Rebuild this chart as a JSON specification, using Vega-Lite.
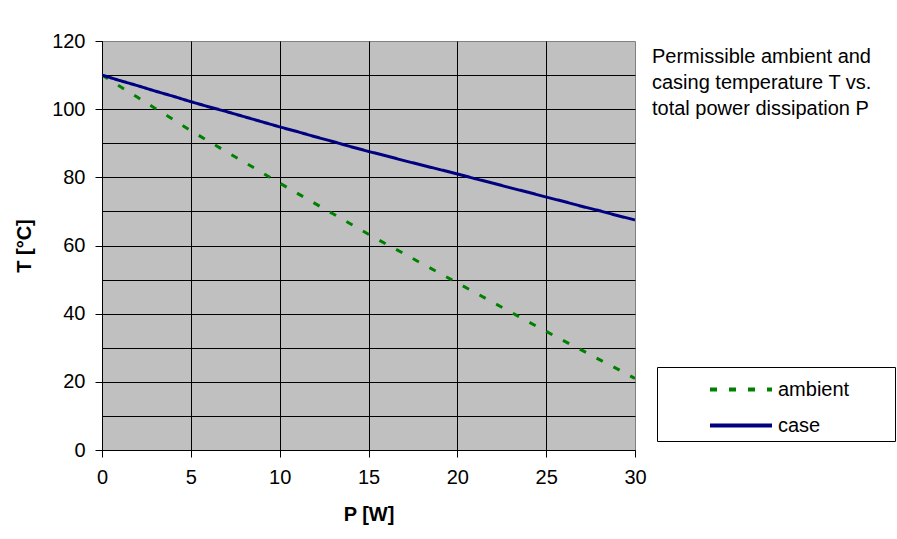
{
  "$schema": "https://vega.github.io/schema/vega-lite/v6.json",
  "autosize": "none",
  "width": 533,
  "height": 409,
  "padding": {"left": 102, "top": 41, "right": 262, "bottom": 89},
  "background": "white",
  "title": {
    "text": ["Permissible ambient and", "casing temperature T vs.", "total power dissipation P"],
    "orient": "top",
    "anchor": "start",
    "frame": "group",
    "baseline": "top",
    "dx": 550,
    "dy": 88,
    "offset": 0,
    "font": "Liberation Sans",
    "fontSize": 20,
    "fontWeight": "normal",
    "lineHeight": 26,
    "color": "black"
  },
  "data": {
    "values": [
      {"P": 0, "T": 110, "series": "ambient"},
      {"P": 1, "T": 106.7, "series": "ambient"},
      {"P": 2, "T": 103.5, "series": "ambient"},
      {"P": 3, "T": 100.2, "series": "ambient"},
      {"P": 4, "T": 97.0, "series": "ambient"},
      {"P": 5, "T": 93.7, "series": "ambient"},
      {"P": 6, "T": 90.6, "series": "ambient"},
      {"P": 7, "T": 87.5, "series": "ambient"},
      {"P": 8, "T": 84.5, "series": "ambient"},
      {"P": 9, "T": 81.4, "series": "ambient"},
      {"P": 10, "T": 78.3, "series": "ambient"},
      {"P": 11, "T": 75.3, "series": "ambient"},
      {"P": 12, "T": 72.3, "series": "ambient"},
      {"P": 13, "T": 69.3, "series": "ambient"},
      {"P": 14, "T": 66.3, "series": "ambient"},
      {"P": 15, "T": 63.3, "series": "ambient"},
      {"P": 16, "T": 60.4, "series": "ambient"},
      {"P": 17, "T": 57.6, "series": "ambient"},
      {"P": 18, "T": 54.7, "series": "ambient"},
      {"P": 19, "T": 51.9, "series": "ambient"},
      {"P": 20, "T": 49.0, "series": "ambient"},
      {"P": 21, "T": 46.2, "series": "ambient"},
      {"P": 22, "T": 43.3, "series": "ambient"},
      {"P": 23, "T": 40.5, "series": "ambient"},
      {"P": 24, "T": 37.6, "series": "ambient"},
      {"P": 25, "T": 34.8, "series": "ambient"},
      {"P": 26, "T": 32.0, "series": "ambient"},
      {"P": 27, "T": 29.3, "series": "ambient"},
      {"P": 28, "T": 26.5, "series": "ambient"},
      {"P": 29, "T": 23.8, "series": "ambient"},
      {"P": 30, "T": 21.0, "series": "ambient"},
      {"P": 0, "T": 110, "series": "case"},
      {"P": 1, "T": 108.4, "series": "case"},
      {"P": 2, "T": 106.9, "series": "case"},
      {"P": 3, "T": 105.3, "series": "case"},
      {"P": 4, "T": 103.8, "series": "case"},
      {"P": 5, "T": 102.2, "series": "case"},
      {"P": 6, "T": 100.7, "series": "case"},
      {"P": 7, "T": 99.3, "series": "case"},
      {"P": 8, "T": 97.8, "series": "case"},
      {"P": 9, "T": 96.3, "series": "case"},
      {"P": 10, "T": 94.8, "series": "case"},
      {"P": 11, "T": 93.4, "series": "case"},
      {"P": 12, "T": 91.9, "series": "case"},
      {"P": 13, "T": 90.5, "series": "case"},
      {"P": 14, "T": 89.0, "series": "case"},
      {"P": 15, "T": 87.6, "series": "case"},
      {"P": 16, "T": 86.3, "series": "case"},
      {"P": 17, "T": 84.9, "series": "case"},
      {"P": 18, "T": 83.6, "series": "case"},
      {"P": 19, "T": 82.3, "series": "case"},
      {"P": 20, "T": 81.0, "series": "case"},
      {"P": 21, "T": 79.6, "series": "case"},
      {"P": 22, "T": 78.3, "series": "case"},
      {"P": 23, "T": 76.9, "series": "case"},
      {"P": 24, "T": 75.6, "series": "case"},
      {"P": 25, "T": 74.2, "series": "case"},
      {"P": 26, "T": 72.9, "series": "case"},
      {"P": 27, "T": 71.5, "series": "case"},
      {"P": 28, "T": 70.2, "series": "case"},
      {"P": 29, "T": 68.8, "series": "case"},
      {"P": 30, "T": 67.5, "series": "case"}
    ]
  },
  "mark": {"type": "line", "strokeWidth": 3, "clip": true},
  "encoding": {
    "x": {
      "field": "P",
      "type": "quantitative",
      "title": "P [W]",
      "scale": {"domain": [0, 30], "nice": false, "zero": true},
      "axis": {
        "values": [0, 5, 10, 15, 20, 25, 30],
        "gridColor": {"condition": {"test": "datum.value == 30", "value": "transparent"}, "value": "black"},
        "labelPadding": 10,
        "titlePadding": 17
      }
    },
    "y": {
      "field": "T",
      "type": "quantitative",
      "title": "T [°C]",
      "scale": {"domain": [0, 120], "nice": false},
      "axis": {
        "values": [0, 10, 20, 30, 40, 50, 60, 70, 80, 90, 100, 110, 120],
        "labelExpr": "datum.value % 20 == 0 ? datum.label : ''",
        "labelOverlap": false,
        "tickOpacity": {"condition": {"test": "datum.value % 20 == 0", "value": 1}, "value": 0},
        "gridColor": {"condition": {"test": "datum.value == 120", "value": "transparent"}, "value": "black"},
        "labelPadding": 10,
        "titlePadding": 17
      }
    },
    "color": {
      "field": "series",
      "type": "nominal",
      "scale": {"domain": ["ambient", "case"], "range": ["#008000", "#000080"]},
      "legend": {
        "title": null,
        "orient": "none",
        "legendX": 555,
        "legendY": 326,
        "symbolType": "M-3,0H1",
        "symbolSize": 961,
        "symbolStrokeWidth": 4,
        "symbolOffset": 77,
        "labelOffset": 4,
        "padding": 5,
        "rowPadding": 8,
        "strokeColor": "black",
        "fillColor": "white",
        "labelExpr": "datum.label + '\u2003\u2003\u200b'"
      }
    },
    "strokeDash": {
      "field": "series",
      "type": "nominal",
      "scale": {"domain": ["ambient", "case"], "range": [[7, 12], [1, 0]]},
      "legend": null
    }
  },
  "config": {
    "font": "Liberation Sans",
    "view": {"stroke": "#808080", "fill": "#C0C0C0", "strokeWidth": 1},
    "axis": {
      "grid": true,
      "gridOpacity": 1,
      "gridWidth": 1,
      "domainColor": "black",
      "domainWidth": 1,
      "tickColor": "black",
      "tickSize": 7,
      "labelFont": "Liberation Sans",
      "labelFontSize": 20,
      "labelColor": "black",
      "labelFlush": false,
      "titleFont": "Liberation Sans",
      "titleFontSize": 20,
      "titleFontWeight": "bold",
      "titleColor": "black"
    },
    "legend": {
      "labelFont": "Liberation Sans",
      "labelFontSize": 20,
      "labelColor": "black",
      "cornerRadius": 0
    }
  }
}
